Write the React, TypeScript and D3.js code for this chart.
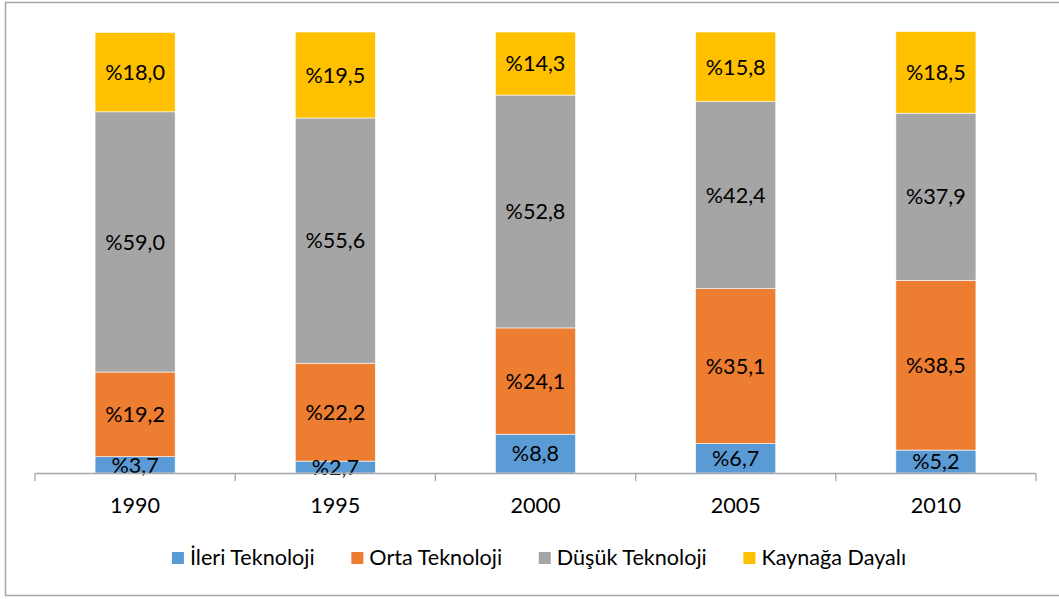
import React from "react";
import * as d3 from "d3";

const years = ["1990", "1995", "2000", "2005", "2010"];
const seriesNames = ["İleri Teknoloji", "Orta Teknoloji", "Düşük Teknoloji", "Kaynağa Dayalı"];
const colors = ["#5b9bd5", "#ed7d31", "#a5a5a5", "#ffc000"];
const ileri = [3.7, 2.7, 8.8, 6.7, 5.2];
const orta = [19.2, 22.2, 24.1, 35.1, 38.5];
const dusuk = [59.0, 55.6, 52.8, 42.4, 37.9];
const kaynak = [18.0, 19.5, 14.3, 15.8, 18.5];
const yDomain = [0, 100];

const W = 1059;
const H = 599;
const FONT = "Lato, 'Open Sans', sans-serif";
const FS = 21.6;

function measure(text: string, size: number): number {
  if (typeof document === "undefined") return text.length * size * 0.5;
  const c = document.createElement("canvas");
  const ctx = c.getContext("2d")!;
  ctx.font = `${size}px ${FONT}`;
  return ctx.measureText(text).width;
}

export default function App() {
  const seriesVals = [ileri, orta, dusuk, kaynak];
  const rows = years.map((y, i) => {
    const r: any = { year: y };
    seriesNames.forEach((s, k) => (r[s] = seriesVals[k][i]));
    return r;
  });
  const stack = d3.stack<any>().keys(seriesNames)(rows);

  const x = d3.scaleBand<string>().domain(years).range([35, 1036]).paddingInner(0.6).paddingOuter(0.3);
  const y = d3.scaleLinear().domain(yDomain).range([473, 32]);
  const step = x.step();
  const ticks = d3.range(years.length + 1).map((i) => 35 + i * step);

  const fmt = (v: number) => "%" + v.toFixed(1).replace(".", ",");

  // legend layout
  const sq = 12;
  const gapSqText = 6;
  const gapItems = 36;
  const widths = seriesNames.map((s) => measure(s, FS));
  const total = widths.reduce((a, w) => a + sq + gapSqText + w, 0) + gapItems * (seriesNames.length - 1);
  let lx = 539 - total / 2;
  const legendItems = seriesNames.map((s, k) => {
    const item = { name: s, x: lx, color: colors[k] };
    lx += sq + gapSqText + widths[k] + gapItems;
    return item;
  });

  return (
    <svg width={W} height={H} style={{ position: "absolute", left: 0, top: 0, background: "#fff" }} fontFamily={FONT}>
      <rect x={0} y={0} width={W} height={H} fill="#fff" />
      <rect x={5.5} y={2.5} width={1070} height={593} fill="none" stroke="#a6a6a6" strokeWidth={1.5} />
      {stack.map((layer, k) => (
        <g key={seriesNames[k]}>
          {layer.map((d, i) => (
            <rect
              key={i}
              x={x(years[i])}
              y={y(d[1])}
              width={x.bandwidth()}
              height={y(d[0]) - y(d[1])}
              fill={colors[k]}
              stroke="#fff"
              strokeWidth={0.6}
            />
          ))}
        </g>
      ))}
      {stack.map((layer, k) => (
        <g key={"l" + k}>
          {layer.map((d, i) => (
            <text
              key={i}
              x={x(years[i])! + x.bandwidth() / 2}
              y={(y(d[0]) + y(d[1])) / 2}
              dy="0.36em"
              textAnchor="middle"
              fontSize={FS}
              fill="#000"
            >
              {fmt(d[1] - d[0])}
            </text>
          ))}
        </g>
      ))}
      <line x1={35} x2={1036} y1={473.5} y2={473.5} stroke="#a6a6a6" strokeWidth={1.3} />
      {ticks.map((t, i) => (
        <line key={i} x1={t} x2={t} y1={473.5} y2={481} stroke="#a6a6a6" strokeWidth={1.3} />
      ))}
      {years.map((yr) => (
        <text key={yr} x={x(yr)! + x.bandwidth() / 2} y={513} textAnchor="middle" fontSize={FS} fill="#000">
          {yr}
        </text>
      ))}
      {legendItems.map((it) => (
        <g key={it.name}>
          <rect x={it.x} y={552} width={sq} height={sq} fill={it.color} />
          <text x={it.x + sq + gapSqText} y={565} fontSize={FS} fill="#000">
            {it.name}
          </text>
        </g>
      ))}
    </svg>
  );
}
